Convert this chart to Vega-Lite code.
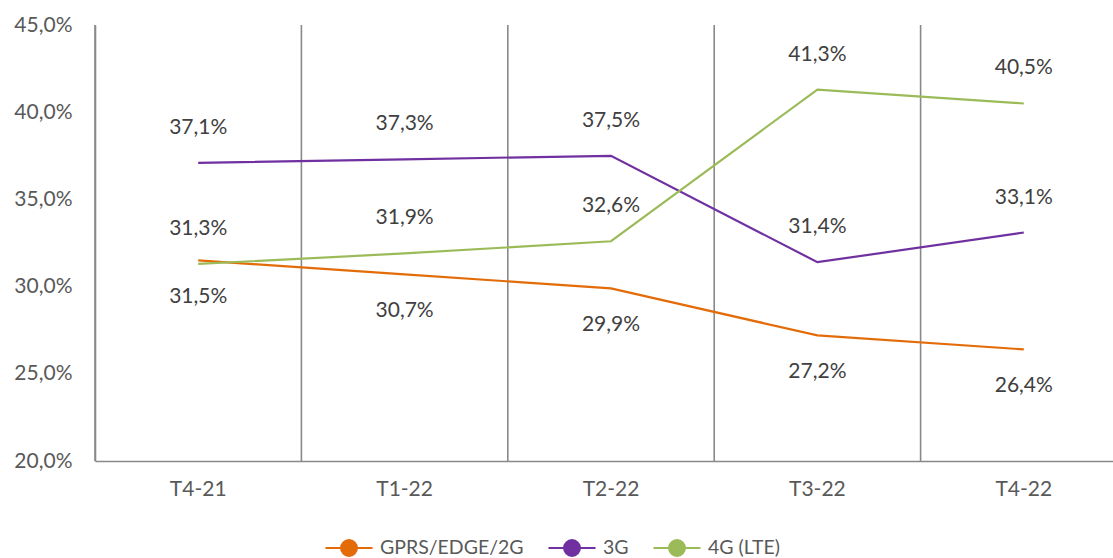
{
  "$schema": "https://vega.github.io/schema/vega-lite/v6.json",
  "autosize": {"type": "none"},
  "padding": {"left": 95, "top": 25, "right": 0, "bottom": 97},
  "width": 1018,
  "height": 436,
  "config": {
    "view": {"stroke": null},
    "font": "Lato",
    "locale": {"number": {"decimal": ",", "thousands": ".", "grouping": [3], "currency": ["", " €"]}}
  },
  "data": {
    "values": [
      {"q": "T4-21", "s": "GPRS/EDGE/2G", "v": 0.315},
      {"q": "T1-22", "s": "GPRS/EDGE/2G", "v": 0.307},
      {"q": "T2-22", "s": "GPRS/EDGE/2G", "v": 0.299},
      {"q": "T3-22", "s": "GPRS/EDGE/2G", "v": 0.272},
      {"q": "T4-22", "s": "GPRS/EDGE/2G", "v": 0.264},
      {"q": "T4-21", "s": "3G", "v": 0.371},
      {"q": "T1-22", "s": "3G", "v": 0.373},
      {"q": "T2-22", "s": "3G", "v": 0.375},
      {"q": "T3-22", "s": "3G", "v": 0.314},
      {"q": "T4-22", "s": "3G", "v": 0.331},
      {"q": "T4-21", "s": "4G (LTE)", "v": 0.313},
      {"q": "T1-22", "s": "4G (LTE)", "v": 0.319},
      {"q": "T2-22", "s": "4G (LTE)", "v": 0.326},
      {"q": "T3-22", "s": "4G (LTE)", "v": 0.413},
      {"q": "T4-22", "s": "4G (LTE)", "v": 0.405}
    ]
  },
  "layer": [
    {
      "transform": [{"filter": "datum.s === '3G'"}],
      "mark": {"type": "rule", "color": "#898989", "strokeWidth": 1.6},
      "encoding": {
        "x": {"field": "q", "type": "nominal", "sort": null, "bandPosition": 0,
              "scale": {"type": "band", "range": [0, 1032], "paddingInner": 0, "paddingOuter": 0},
              "axis": {"title": null, "labelAngle": 0, "ticks": false, "grid": false, "domainColor": "#898989", "domainWidth": 1.6, "labelPadding": 17, "labelFontSize": 21, "labelColor": "#595959", "labelFont": "Lato"}},
        "y": {"datum": 0.2, "type": "quantitative"},
        "y2": {"datum": 0.45}
      }
    },
    {
      "mark": {"type": "line", "strokeWidth": 2.2},
      "encoding": {
        "x": {"field": "q", "type": "nominal", "sort": null,
              "scale": {"type": "band", "range": [0, 1032], "paddingInner": 0, "paddingOuter": 0},
              "axis": {"title": null, "labelAngle": 0, "ticks": false, "grid": false, "domainColor": "#898989", "domainWidth": 1.6, "labelPadding": 17, "labelFontSize": 21, "labelColor": "#595959", "labelFont": "Lato"}},
        "y": {"field": "v", "type": "quantitative",
              "scale": {"domain": [0.2, 0.45], "zero": false, "nice": false},
              "axis": {"title": null, "values": [0.2, 0.25, 0.3, 0.35, 0.4, 0.45], "format": ".1%", "ticks": false, "grid": false, "domainColor": "#898989", "domainWidth": 1.6, "labelPadding": 23, "labelFontSize": 21, "labelColor": "#595959", "labelFont": "Lato"}},
        "color": {"field": "s", "type": "nominal",
                  "scale": {"domain": ["GPRS/EDGE/2G", "3G", "4G (LTE)"], "range": ["#E36C09", "#7030A0", "#9BBB59"]},
                  "legend": {"title": null, "orient": "none", "direction": "horizontal", "legendX": 237, "legendY": 506,
                             "symbolType": "M-1.5,0H-0.5M0.5,0H1.5M-0.5,0A0.5,0.5 0 1,1 0.5,0A0.5,0.5 0 1,1 -0.5,0Z",
                             "symbolSize": 984, "symbolStrokeWidth": 2.2, "labelFontSize": 19.5, "labelColor": "#595959", "labelFont": "Lato",
                             "labelOffset": 14, "columnPadding": 20, "padding": 0, "gridAlign": "none",
                             "encode": {"symbols": {"update": {"fill": {"scale": "color", "field": "value"}, "fillOpacity": {"value": 1}}}}}}
      }
    },
    {
      "transform": [{"filter": "datum.s !== 'GPRS/EDGE/2G'"}],
      "mark": {"type": "text", "dy": -35, "fontSize": 21, "color": "#404040", "font": "Lato"},
      "encoding": {
        "x": {"field": "q", "type": "nominal", "sort": null},
        "y": {"field": "v", "type": "quantitative"},
        "text": {"field": "v", "type": "quantitative", "format": ".1%"}
      }
    },
    {
      "transform": [{"filter": "datum.s === 'GPRS/EDGE/2G'"}],
      "mark": {"type": "text", "dy": 37, "fontSize": 21, "color": "#404040", "font": "Lato"},
      "encoding": {
        "x": {"field": "q", "type": "nominal", "sort": null},
        "y": {"field": "v", "type": "quantitative"},
        "text": {"field": "v", "type": "quantitative", "format": ".1%"}
      }
    }
  ]
}
